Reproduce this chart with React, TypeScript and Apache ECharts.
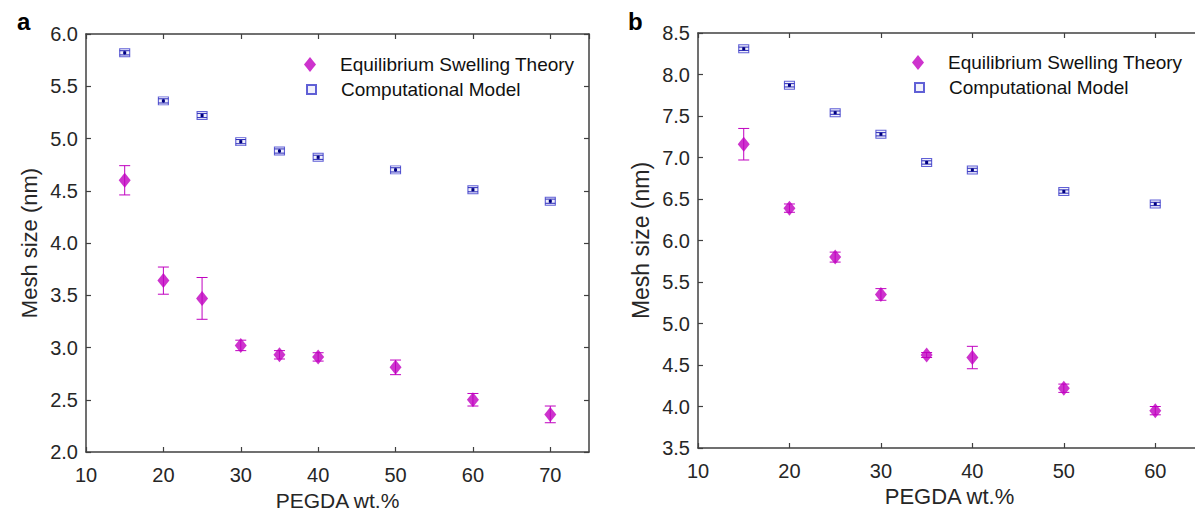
import React, { useEffect, useRef } from "react";
import * as echarts from "echarts";

// Panel a
const wtA = [15, 20, 25, 30, 35, 40, 50, 60, 70];
const theoryA = [4.6, 3.64, 3.47, 3.02, 2.93, 2.91, 2.81, 2.5, 2.36];
const theoryErrA = [0.14, 0.13, 0.2, 0.05, 0.04, 0.04, 0.07, 0.06, 0.08];
const modelA = [5.82, 5.36, 5.22, 4.97, 4.88, 4.82, 4.7, 4.51, 4.4];
const modelErrA = [0.02, 0.02, 0.02, 0.02, 0.02, 0.02, 0.02, 0.02, 0.02];

// Panel b
const wtB = [15, 20, 25, 30, 35, 40, 50, 60];
const theoryB = [7.16, 6.39, 5.8, 5.35, 4.62, 4.59, 4.22, 3.95];
const theoryErrB = [0.19, 0.05, 0.06, 0.07, 0.03, 0.135, 0.05, 0.05];
const modelB = [8.31, 7.87, 7.54, 7.28, 6.94, 6.85, 6.59, 6.44];
const modelErrB = [0.02, 0.02, 0.02, 0.02, 0.02, 0.02, 0.02, 0.02];

const THEORY = "Equilibrium Swelling Theory";
const MODEL = "Computational Model";
const XNAME = "PEGDA wt.%";
const YNAME = "Mesh size (nm)";

const FONT = '"Liberation Sans", Arial, sans-serif';
const MAGENTA = "#c000c0";
const BLUE = "#3a3acc";
const AXIS = "#404040";
const TEXT = "#262626";

const errorBar = (color: string, capW: number, dot?: string) => (params: any, api: any) => {
  const x = api.value(0);
  const y = api.value(1);
  const e = api.value(2);
  const hi = api.coord([x, y + e]);
  const lo = api.coord([x, y - e]);
  const c = api.coord([x, y]);
  const st = { stroke: color, lineWidth: 1 };
  const children: any[] = [
    { type: "line", shape: { x1: hi[0], y1: hi[1], x2: lo[0], y2: lo[1] }, style: st },
    { type: "line", shape: { x1: hi[0] - capW / 2, y1: hi[1], x2: hi[0] + capW / 2, y2: hi[1] }, style: st },
    { type: "line", shape: { x1: lo[0] - capW / 2, y1: lo[1], x2: lo[0] + capW / 2, y2: lo[1] }, style: st },
  ];
  if (dot) {
    children.push({ type: "rect", shape: { x: c[0] - 1.5, y: c[1] - 1.5, width: 3, height: 3 }, style: { fill: dot } });
  }
  return { type: "group", children };
};

const tri = (xs: number[], ys: number[], es: number[]) => xs.map((x, i) => [x, ys[i], es[i]]);
const pairs = (xs: number[], ys: number[]) => xs.map((x, i) => [x, ys[i]]);

const xAxisPair = (g: number, max: number, nameSize: number, nameGap: number) => [
  {
    type: "value", gridIndex: g, min: 10, max, interval: 10, position: "bottom",
    axisLine: { show: true, onZero: false, lineStyle: { color: AXIS, width: 1.5 } },
    axisTick: { show: true, inside: true, length: 5, lineStyle: { color: AXIS, width: 1.2 } },
    axisLabel: {
      show: true, margin: 13, fontSize: 20, color: TEXT, fontFamily: FONT, showMaxLabel: false,
      formatter: (v: number) => (v % 10 === 0 ? String(v) : ""),
    },
    splitLine: { show: false },
    name: XNAME, nameLocation: "middle", nameGap,
    nameTextStyle: { fontSize: nameSize, color: TEXT, fontFamily: FONT },
  },
  {
    type: "value", gridIndex: g, min: 10, max, interval: 10, position: "top",
    axisLine: { show: true, onZero: false, lineStyle: { color: AXIS, width: 1.5 } },
    axisTick: { show: true, inside: true, length: 5, lineStyle: { color: AXIS, width: 1.2 } },
    axisLabel: { show: false },
    splitLine: { show: false },
  },
];

const yAxisPair = (g: number, min: number, max: number, nameSize: number) => [
  {
    type: "value", gridIndex: g, min, max, interval: 0.5, position: "left",
    axisLine: { show: true, onZero: false, lineStyle: { color: AXIS, width: 1.5 } },
    axisTick: { show: true, inside: true, length: 5, lineStyle: { color: AXIS, width: 1.2 } },
    axisLabel: { show: true, margin: 8, fontSize: 20, color: TEXT, fontFamily: FONT, formatter: (v: number) => v.toFixed(1) },
    splitLine: { show: false },
    name: YNAME, nameLocation: "middle", nameGap: 46,
    nameTextStyle: { fontSize: nameSize, color: TEXT, fontFamily: FONT },
  },
  {
    type: "value", gridIndex: g, min, max, interval: 0.5, position: "right",
    axisLine: { show: true, onZero: false, lineStyle: { color: AXIS, width: 1.5 } },
    axisTick: { show: true, inside: true, length: 5, lineStyle: { color: AXIS, width: 1.2 } },
    axisLabel: { show: false },
    splitLine: { show: false },
  },
];

const panelSeries = (g: number, wt: number[], th: number[], thE: number[], mo: number[], moE: number[]) => [
  {
    type: "custom", name: THEORY + " error", xAxisIndex: 2 * g, yAxisIndex: 2 * g, z: 1,
    renderItem: errorBar(MAGENTA, 11), data: tri(wt, th, thE), encode: { x: 0, y: 1 }, silent: true,
  },
  {
    type: "scatter", name: THEORY, xAxisIndex: 2 * g, yAxisIndex: 2 * g, z: 2,
    symbol: "diamond", symbolSize: [12, 15], itemStyle: { color: MAGENTA },
    data: pairs(wt, th),
  },
  {
    type: "scatter", name: MODEL, xAxisIndex: 2 * g, yAxisIndex: 2 * g, z: 2,
    symbol: "rect", symbolSize: [10, 8],
    itemStyle: { color: "rgba(220,220,245,0.5)", borderColor: BLUE, borderWidth: 1 },
    data: pairs(wt, mo),
  },
  {
    type: "custom", name: MODEL + " error", xAxisIndex: 2 * g, yAxisIndex: 2 * g, z: 3,
    renderItem: errorBar("#2a2ab8", 10, "#000080"), data: tri(wt, mo, moE), encode: { x: 0, y: 1 }, silent: true,
  },
];

const legendItem = (name: string, left: number, top: number, w: number, h: number, pad: number, icon: string) => ({
  show: true, left, top, padding: 0, orient: "vertical", selectedMode: false,
  itemWidth: w, itemHeight: h, icon,
  data: [name],
  textStyle: { fontSize: 19, color: "#111", fontFamily: FONT, padding: [0, 0, 0, pad] },
});

export default function App() {
  const ref = useRef<HTMLDivElement>(null);
  useEffect(() => {
    if (!ref.current) return;
    const chart = echarts.init(ref.current, null, { renderer: "svg", width: 1195, height: 512 });
    chart.setOption({
      animation: false,
      backgroundColor: "#ffffff",
      textStyle: { fontFamily: FONT },
      title: [
        { text: "a", left: 12, top: 4, textStyle: { fontSize: 24, fontWeight: "bold", color: "#000", fontFamily: FONT } },
        { text: "b", left: 623, top: 4, textStyle: { fontSize: 24, fontWeight: "bold", color: "#000", fontFamily: FONT } },
      ],
      grid: [
        { left: 86, top: 34, width: 503, height: 418, containLabel: false, outerBoundsMode: "none" },
        { left: 698, top: 33, width: 503, height: 415, containLabel: false, outerBoundsMode: "none" },
      ],
      xAxis: [...xAxisPair(0, 75, 21, 35), ...xAxisPair(1, 65, 22, 37)],
      yAxis: [...yAxisPair(0, 2, 6, 22), ...yAxisPair(1, 3.5, 8.5, 23)],
      legend: [
        legendItem(THEORY, 304, 55, 12, 15, 19, "diamond"),
        legendItem(MODEL, 306, 80, 9, 9, 20, "rect"),
        legendItem(THEORY, 912, 53, 12, 15, 19, "diamond"),
        legendItem(MODEL, 914, 78, 9, 9, 20, "rect"),
      ],
      series: [
        ...panelSeries(0, wtA, theoryA, theoryErrA, modelA, modelErrA),
        ...panelSeries(1, wtB, theoryB, theoryErrB, modelB, modelErrB),
      ],
    });
    return () => chart.dispose();
  }, []);
  return <div ref={ref} style={{ position: "absolute", left: 0, top: 0, width: 1195, height: 512 }} />;
}
